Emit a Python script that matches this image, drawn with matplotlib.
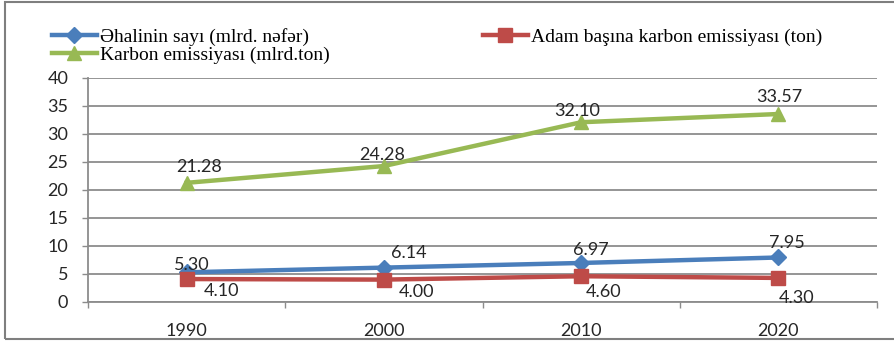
import numpy as np
import matplotlib
matplotlib.use("Agg")
import matplotlib.pyplot as plt
from matplotlib.patches import Rectangle

# data
years = ["1990", "2000", "2010", "2020"]
population = [5.30, 6.14, 6.97, 7.95]        # mlrd. nəfər
per_capita = [4.10, 4.00, 4.60, 4.30]        # ton
emission = [21.28, 24.28, 32.10, 33.57]      # mlrd. ton

labels = ["Əhalinin sayı (mlrd. nəfər)",
          "Adam başına karbon emissiyası (ton)",
          "Karbon emissiyası (mlrd.ton)"]

blue = "#4A7EBB"
red = "#BE4B48"
green = "#98B954"
grey = "#8C8C8C"

fig = plt.figure(figsize=(8.94, 3.41), dpi=100)
ax = fig.add_axes([88/894, 39/341, (877-88)/894, (302-78)/341])

x = np.arange(len(years))
l_pop, = ax.plot(x, population, color=blue, lw=3.2, marker="D", ms=8, zorder=3)
l_pc, = ax.plot(x, per_capita, color=red, lw=3.2, marker="s", ms=10, zorder=4)
l_em, = ax.plot(x, emission, color=green, lw=3.2, marker="^", ms=10, zorder=3)

# label offsets in pixels (dx, dy down positive) from the marker
off_pop = [(5, -7), (25, -15), (10, -13), (9, -14)]
off_pc = [(35, 12), (33, 12), (22, 16), (18, 20)]
off_em = [(12, -16), (-2, -11), (-4, -11), (1, -17)]

def put_labels(vals, offs):
    for i, (v, (dx, dy)) in enumerate(zip(vals, offs)):
        ax.annotate("%.2f" % v, (i, v), xytext=(dx*0.72, -dy*0.72),
                    textcoords="offset points", ha="center", va="center",
                    fontsize=13, family="Lato", color="#262626", zorder=5)

put_labels(population, off_pop)
put_labels(per_capita, off_pc)
put_labels(emission, off_em)

ax.set_xlim(-0.5, 3.5)
ax.set_ylim(0, 40)
ax.set_yticks(np.arange(0, 41, 5))
ax.set_xticks(x)
ax.set_xticklabels(years)
ax.set_xticks(np.arange(-0.5, 3.6, 1), minor=True)
ax.grid(axis="y", color=grey, lw=1.3, zorder=0)
ax.set_axisbelow(True)
for s in ["top", "right"]:
    ax.spines[s].set_visible(False)
for s in ["left", "bottom"]:
    ax.spines[s].set_color(grey)
    ax.spines[s].set_linewidth(1.3)
ax.tick_params(axis="y", length=4.3, width=1, color=grey, pad=10,
               labelsize=13, labelcolor="#262626")
ax.tick_params(axis="x", which="major", length=0, pad=15,
               labelsize=13, labelcolor="#262626")
ax.tick_params(axis="x", which="minor", length=4.3, width=1, color=grey)
for t in ax.get_xticklabels() + ax.get_yticklabels():
    t.set_family("Lato")

fig.legend([l_pop, l_em, l_pc], [labels[0], labels[2], labels[1]],
           ncol=2, loc="upper left", bbox_to_anchor=(52/894, 1 - 28/341),
           frameon=False, prop={"family": "Liberation Serif", "size": 14},
           handlelength=2.3, handletextpad=0.15, columnspacing=7.9,
           labelspacing=0.0, borderpad=0, borderaxespad=0)

# outer chart border
fig.patches.append(Rectangle((5/894, 2/341), 1.0, 337/341, transform=fig.transFigure,
                             fill=False, edgecolor="#7F7F7F", lw=1.5))

fig.savefig("out.png", dpi=100)
